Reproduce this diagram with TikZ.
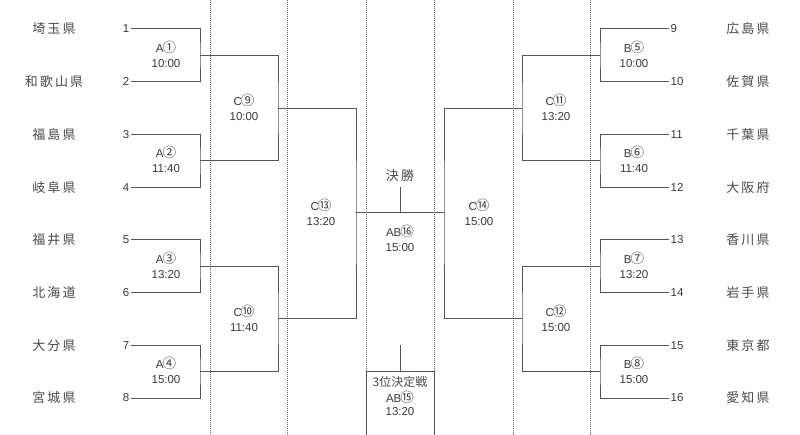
\documentclass[tikz,border=0pt]{standalone}
\usepackage{fontspec}
\setmainfont{Liberation Sans}
\newfontfamily\jp{Noto Sans CJK JP}
\newfontfamily\jpname[LetterSpace=16]{Noto Sans CJK JP}
\newcommand\cnum[1]{{\kern-0.08em\jp\fontsize{13.5}{13.5}\selectfont #1}}
\definecolor{linec}{HTML}{555555}
\definecolor{textc}{HTML}{3A3A3A}
\definecolor{namec}{HTML}{4A4A4A}
\definecolor{dotc}{HTML}{6A6A6A}
\begin{document}
\begin{tikzpicture}[x=1pt,y=-1pt,
  br/.style={draw=linec,line width=1pt},
  sep/.style={draw=dotc,line width=0.6pt,dash pattern=on 1pt off 1pt},
  team/.style={inner sep=0pt,text=namec,font=\jpname\fontsize{13}{13}\selectfont},
  num/.style={inner xsep=1.5pt,inner ysep=0pt,text=textc,font=\fontsize{11.5}{11.5}\selectfont},
  lbl/.style={inner sep=0pt,text=textc,font=\fontsize{11.5}{11.5}\selectfont},
  ttl/.style={inner sep=0pt,text=namec,font=\jpname\fontsize{13}{13}\selectfont}]
\useasboundingbox (0,0) rectangle (800,435);
\fill[white] (0,0) rectangle (800,435);
% dotted separators
\foreach \xx/\nn in {210/a,287/b,366/c,434/d,513/e,590/f}{
  \coordinate (dt\nn) at (\xx,0);
  \coordinate (db\nn) at (\xx,435);
  \draw[sep] (dt\nn) -- (db\nn);
}
% left teams
\foreach \i/\nm in {1/埼玉県,2/和歌山県,3/福島県,4/岐阜県,5/福井県,6/北海道,7/大分県,8/宮城県}{
  \pgfmathsetmacro\yy{29+(\i-1)*52.72}
  \node[team] (tl\i) at (54,\yy) {\nm};
  \node[num,anchor=east] (nl\i) at (131,\yy) {\i};
}
% right teams
\foreach \i/\nm in {9/広島県,10/佐賀県,11/千葉県,12/大阪府,13/香川県,14/岩手県,15/東京都,16/愛知県}{
  \pgfmathsetmacro\yy{29+(\i-9)*52.72}
  \node[team] (tr\i) at (748,\yy) {\nm};
  \node[num,anchor=west] (nr\i) at (669,\yy) {\i};
}
% first round
\foreach \k/\a/\b/\lab/\tm in {1/1/2/A\cnum{①}/10:00,2/3/4/A\cnum{②}/11:40,3/5/6/A\cnum{③}/13:20,4/7/8/A\cnum{④}/15:00}{
  \pgfmathsetmacro\yy{29+(2*\k-1.5)*52.72}
  \coordinate (ma\k) at (200,\yy);
  \draw[br] (nl\a.east) -| (ma\k) |- (nl\b.east);
  \node[lbl] (mla\k) at (166,\yy-8) {\lab};
  \node[lbl] (mlt\k) at (166,\yy+8) {\tm};
}
\foreach \k/\a/\b/\lab/\tm in {1/9/10/B\cnum{⑤}/10:00,2/11/12/B\cnum{⑥}/11:40,3/13/14/B\cnum{⑦}/13:20,4/15/16/B\cnum{⑧}/15:00}{
  \pgfmathsetmacro\yy{29+(2*\k-1.5)*52.72}
  \coordinate (mb\k) at (600,\yy);
  \draw[br] (nr\a.west) -| (mb\k) |- (nr\b.west);
  \node[lbl] (mra\k) at (634,\yy-8) {\lab};
  \node[lbl] (mrt\k) at (634,\yy+8) {\tm};
}
% second round
\coordinate (ra1) at (278,108.1);
\coordinate (ra2) at (278,319.0);
\coordinate (rb1) at (522,108.1);
\coordinate (rb2) at (522,319.0);
\draw[br] (ma1) -| (ra1) |- (ma2);
\draw[br] (ma3) -| (ra2) |- (ma4);
\draw[br] (mb1) -| (rb1) |- (mb2);
\draw[br] (mb3) -| (rb2) |- (mb4);
\node[lbl] (c9) at (244,100) {C\cnum{⑨}};
\node[lbl] (c9t) at (244,116.5) {10:00};
\node[lbl] (c10) at (244,311) {C\cnum{⑩}};
\node[lbl] (c10t) at (244,327.5) {11:40};
\node[lbl] (c11) at (556,100) {C\cnum{⑪}};
\node[lbl] (c11t) at (556,116.5) {13:20};
\node[lbl] (c12) at (556,311) {C\cnum{⑫}};
\node[lbl] (c12t) at (556,327.5) {15:00};
% semifinals
\coordinate (sl) at (356,212.8);
\coordinate (sr) at (444,212.8);
\draw[br] (ra1) -| (sl) |- (ra2);
\draw[br] (rb1) -| (sr) |- (rb2);
\node[lbl] (c13) at (321,205) {C\cnum{⑬}};
\node[lbl] (c13t) at (321,221.5) {13:20};
\node[lbl] (c14) at (479,205) {C\cnum{⑭}};
\node[lbl] (c14t) at (479,221.5) {15:00};
% final
\coordinate (fm) at (400,212.8);
\coordinate (ft) at (400,187.5);
\draw[br] (sl) -- (sr);
\draw[br] (fm) -- (ft);
\node[ttl] (fin) at (400,176) {決勝};
\node[lbl] (ab16) at (400,231.5) {AB\cnum{⑯}};
\node[lbl] (ab16t) at (400,248) {15:00};
% third place
\coordinate (tp) at (400,345.2);
\coordinate (tb) at (400,371);
\coordinate (bxl) at (366,435);
\coordinate (bxr) at (434,435);
\draw[br] (tp) -- (tb);
\draw[br] (bxl) |- (bxr |- tb) -- (bxr);
\node[inner sep=0pt,text=namec,font=\jp\fontsize{12}{12}\selectfont] (third) at (400,382) {3位決定戦};
\node[lbl] (ab15) at (400,397.5) {AB\cnum{⑮}};
\node[lbl] (ab15t) at (400,412) {13:20};
\end{tikzpicture}
\end{document}
